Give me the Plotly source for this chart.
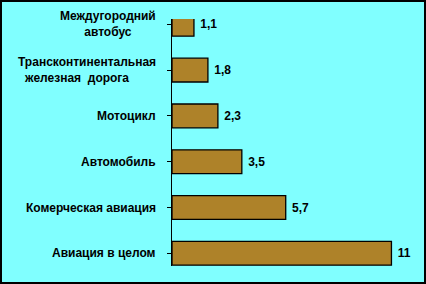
import plotly.graph_objects as go

categories = [
    "Авиация в целом",
    "Комерческая авиация",
    "Автомобиль",
    "Мотоцикл",
    "Трансконтинентальная<br>железная\u00a0\u00a0дорога\u00a0\u00a0\u00a0\u00a0\u00a0\u00a0",
    "Междугородний<br>автобус",
]
values = [11, 5.7, 3.5, 2.3, 1.8, 1.1]
value_labels = ["\u00a0" + f"{v:g}".replace(".", ",") for v in values]

W, H = 426, 284
L, R, T, B = 172, 14, 19, 18
pw, ph = W - L - R, H - T - B

FONT = "Liberation Sans, Arial, sans-serif"
BG = "#80FFFF"

fig = go.Figure()
fig.add_trace(go.Bar(
    y=list(range(len(categories))),
    x=values,
    orientation="h",
    width=0.52,
    marker=dict(color="#AE8229", line=dict(color="black", width=1.3)),
    text=value_labels,
    textposition="outside",
    textfont=dict(family=FONT, size=12, color="black", weight="bold"),
    cliponaxis=False,
    hoverinfo="skip",
))

for i, c in enumerate(categories):
    fig.add_annotation(
        xref="paper", yref="y", x=(158 - L) / pw, y=i,
        text=c, showarrow=False, xanchor="right", yanchor="middle",
        align="center",
        font=dict(family=FONT, size=12, color="black", weight="bold"),
    )

# outer border of the picture
fig.add_shape(
    type="rect", xref="paper", yref="paper",
    x0=(1 - L) / pw, x1=(425 - L) / pw,
    y0=(H - 283 - B) / ph, y1=(H - 1 - B) / ph,
    line=dict(color="black", width=2), fillcolor="rgba(0,0,0,0)",
    layer="above",
)

fig.update_layout(
    width=W, height=H,
    margin=dict(l=L, r=R, t=T, b=B, pad=0),
    paper_bgcolor=BG, plot_bgcolor=BG,
    showlegend=False,
    bargap=0.48,
    xaxis=dict(range=[0, pw / 19.95], visible=False, fixedrange=True),
    yaxis=dict(
        range=[-0.277, 5.116],
        showticklabels=False,
        showgrid=False, zeroline=False,
        showline=True, linecolor="black", linewidth=1,
        ticks="outside", ticklen=4, tickcolor="black", tickwidth=1,
        tickvals=list(range(len(categories))),
        fixedrange=True,
    ),
)

fig.write_html("out.html", config={"displayModeBar": False})
